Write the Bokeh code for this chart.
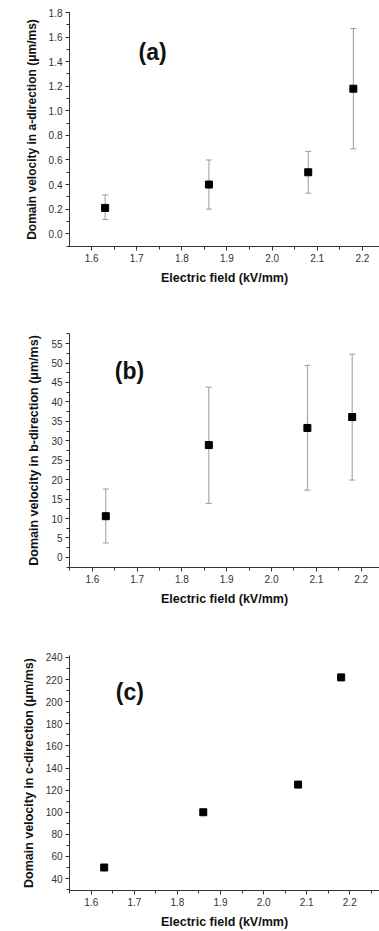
from bokeh.plotting import figure
from bokeh.layouts import column
from bokeh.models import (ColumnDataSource, Whisker, TeeHead, SingleIntervalTicker,
                          NumeralTickFormatter, Range1d, Label)
from bokeh.embed import file_html
from bokeh.resources import INLINE

# ---- data ----
field = [1.63, 1.86, 2.08, 2.18]

va = [0.21, 0.40, 0.50, 1.18]
va_lo = [0.115, 0.20, 0.33, 0.69]
va_hi = [0.315, 0.60, 0.67, 1.67]

vb = [10.6, 28.9, 33.3, 36.1]
vb_lo = [3.7, 13.9, 17.3, 19.9]
vb_hi = [17.6, 43.8, 49.4, 52.3]

vc = [50, 100, 125, 222]

x_ticks_fmt = "0.0"
panel_tags = ["(a)", "(b)", "(c)"]
y_titles = ["Domain velocity in a-direction (\u03bcm/ms)",
            "Domain velocity in b-direction (\u03bcm/ms)",
            "Domain velocity in c-direction (\u03bcm/ms)"]
x_title = "Electric field (kV/mm)"

FONT = "Liberation Sans"
W = 379


def make_fig(height, top, left, bottom, xr, yr, yint, yfmt, ytitle, ysize):
    p = figure(width=W, height=height, output_backend="svg", toolbar_location=None,
               x_range=Range1d(*xr), y_range=Range1d(*yr),
               min_border_top=top, min_border_left=left, min_border_right=0,
               min_border_bottom=bottom)
    p.outline_line_color = None
    p.xgrid.visible = False
    p.ygrid.visible = False
    p.background_fill_color = "white"
    p.border_fill_color = "white"
    p.xaxis.ticker = SingleIntervalTicker(interval=0.1, num_minor_ticks=2)
    p.yaxis.ticker = SingleIntervalTicker(interval=yint, num_minor_ticks=2)
    p.xaxis.formatter = NumeralTickFormatter(format=x_ticks_fmt)
    p.yaxis.formatter = NumeralTickFormatter(format=yfmt)
    for ax in (p.xaxis, p.yaxis):
        ax.axis_line_color = "#333333"
        ax.major_tick_line_color = "#333333"
        ax.minor_tick_line_color = "#333333"
        ax.major_tick_out = 4
        ax.major_tick_in = 0
        ax.minor_tick_out = 3
        ax.minor_tick_in = 0
        ax.major_label_text_font = FONT
        ax.major_label_text_font_size = "10px"
        ax.major_label_text_color = "#333333"
        ax.major_label_standoff = 3
        ax.axis_label_text_font = FONT
        ax.axis_label_text_font_style = "bold"
        ax.axis_label_text_color = "#111111"
    p.xaxis.axis_label = x_title
    p.xaxis.axis_label_text_font_size = "12.5px"
    p.xaxis.axis_label_standoff = 6
    p.yaxis.axis_label = ytitle
    p.yaxis.axis_label_text_font_size = ysize
    p.yaxis.axis_label_standoff = 7
    return p


def add_errors(p, x, y, lo, hi):
    src = ColumnDataSource(dict(x=x, y=y, lo=lo, hi=hi))
    w = Whisker(source=src, base="x", upper="hi", lower="lo",
                line_color="#9a9a9a", line_width=1,
                upper_head=TeeHead(size=6, line_color="#9a9a9a", line_width=1),
                lower_head=TeeHead(size=6, line_color="#9a9a9a", line_width=1))
    p.add_layout(w)


def add_points(p, x, y):
    p.scatter(x, y, marker="square", size=7, fill_color="black", line_color="black")


def add_tag(p, x, y, text):
    p.add_layout(Label(x=x, y=y, text=text, text_font=FONT, text_font_style="bold",
                       text_font_size="23px", text_baseline="middle", text_align="left",
                       text_color="#111111"))


pa = make_fig(300, 12, 69, 54, (1.551, 2.238), (-0.104, 1.8), 0.2, "0.0", y_titles[0], "12px")
add_errors(pa, field, va, va_lo, va_hi)
add_points(pa, field, va)
add_tag(pa, 1.704, 1.475, panel_tags[0])

pb = make_fig(320, 33, 68, 53, (1.549, 2.241), (-2.6, 57.6), 5, "0", y_titles[1], "12.5px")
add_errors(pb, field, vb, vb_lo, vb_hi)
add_points(pb, field, vb)
add_tag(pb, 1.650, 48.0, panel_tags[1])

pc = make_fig(311, 35, 61, 40, (1.5495, 2.269), (29.2, 241.8), 20, "0", y_titles[2], "12.5px")
add_points(pc, field, vc)
add_tag(pc, 1.657, 208.5, panel_tags[2])

layout = column(pa, pb, pc, spacing=0)
open("out.html", "w").write(file_html(layout, INLINE))
